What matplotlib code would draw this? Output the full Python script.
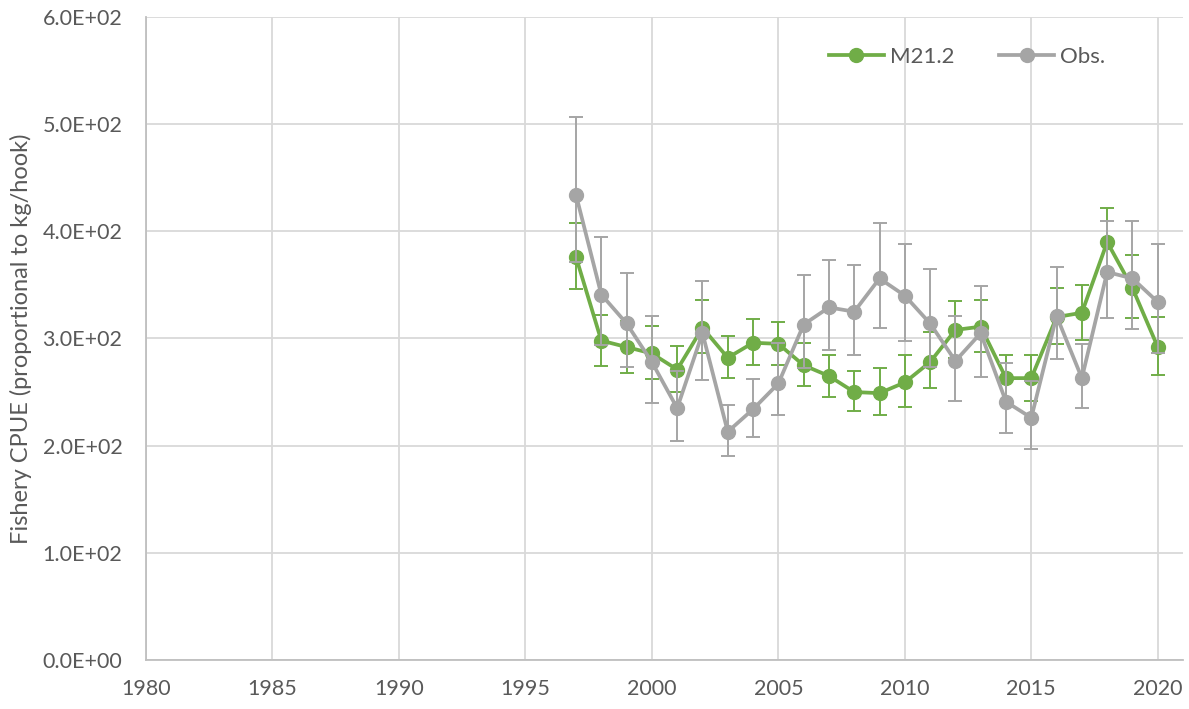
import numpy as np
import matplotlib.pyplot as plt
from matplotlib.ticker import FuncFormatter

plt.rcParams['font.family'] = ['Lato', 'DejaVu Sans']

# data
years = list(range(1997, 2021))
m21 = [376, 298, 292, 286, 271, 310, 282, 296, 295, 275, 265, 250,
       249, 259, 278, 308, 311, 263, 263, 320, 324, 390, 347, 292]
m21_hi = [408, 322, 316, 312, 293, 336, 302, 318, 315, 296, 285, 270,
          272, 285, 306, 335, 336, 285, 285, 347, 350, 422, 378, 320]
m21_lo = [346, 274, 268, 262, 250, 286, 263, 275, 275, 256, 245, 232,
          229, 236, 254, 282, 287, 241, 242, 295, 299, 360, 319, 266]
obs = [434, 341, 314, 278, 235, 305, 213, 234, 258, 313, 329, 325,
       356, 340, 314, 279, 305, 241, 226, 321, 263, 362, 356, 334]
obs_hi = [507, 395, 361, 321, 270, 354, 238, 262, 296, 359, 373, 369,
          408, 388, 365, 321, 349, 277, 260, 367, 295, 410, 410, 388]
obs_lo = [371, 294, 273, 240, 204, 261, 190, 208, 229, 272, 289, 285,
          310, 298, 273, 242, 264, 212, 197, 281, 235, 319, 309, 286]

green = '#70AD47'
grey = '#A5A5A5'
txt = '#595959'

fig = plt.figure(figsize=(11.89, 7.09), dpi=100)
ax = fig.add_axes([0.1228, 0.0691, 0.8722, 0.907])

m = np.array(m21)
o = np.array(obs)
ax.errorbar(years, m21, yerr=[m - np.array(m21_lo), np.array(m21_hi) - m],
            color=green, lw=2.7, marker='o', ms=10, ecolor=green,
            elinewidth=1.4, capsize=5, capthick=1.4, label='M21.2', zorder=3)
ax.errorbar(years, obs, yerr=[o - np.array(obs_lo), np.array(obs_hi) - o],
            color=grey, lw=2.7, marker='o', ms=10, ecolor=grey,
            elinewidth=1.4, capsize=5, capthick=1.4, label='Obs.', zorder=4)

ax.set_xlim(1980, 2021)
ax.set_ylim(0, 600)
ax.set_xticks(range(1980, 2021, 5))
ax.set_yticks(range(0, 601, 100))
ax.yaxis.set_major_formatter(FuncFormatter(lambda v, p: f'{v:.1E}'))
ax.grid(True, color='#D9D9D9', lw=1.3, zorder=0)
ax.set_axisbelow(True)
for s in ['top', 'right']:
    ax.spines[s].set_visible(False)
for s in ['left', 'bottom']:
    ax.spines[s].set_color('#BFBFBF')
    ax.spines[s].set_linewidth(1.3)
ax.tick_params(length=0, labelsize=15.5, colors=txt)
ax.tick_params(axis='y', pad=17)
ax.tick_params(axis='x', pad=14)
ax.set_ylabel('Fishery CPUE (proportional to kg/hook)', fontsize=17, color=txt)
ax.yaxis.set_label_coords(-0.11, 0.5)

handles, labels = ax.get_legend_handles_labels()
handles = [h[0] for h in handles]
leg = ax.legend(handles, labels, ncol=2, frameon=False, fontsize=16,
                loc='upper right', bbox_to_anchor=(0.944, 0.985),
                handlelength=2.5, columnspacing=2.0, handletextpad=0.25)
for t in leg.get_texts():
    t.set_color(txt)

fig.savefig('out.png', dpi=100)
